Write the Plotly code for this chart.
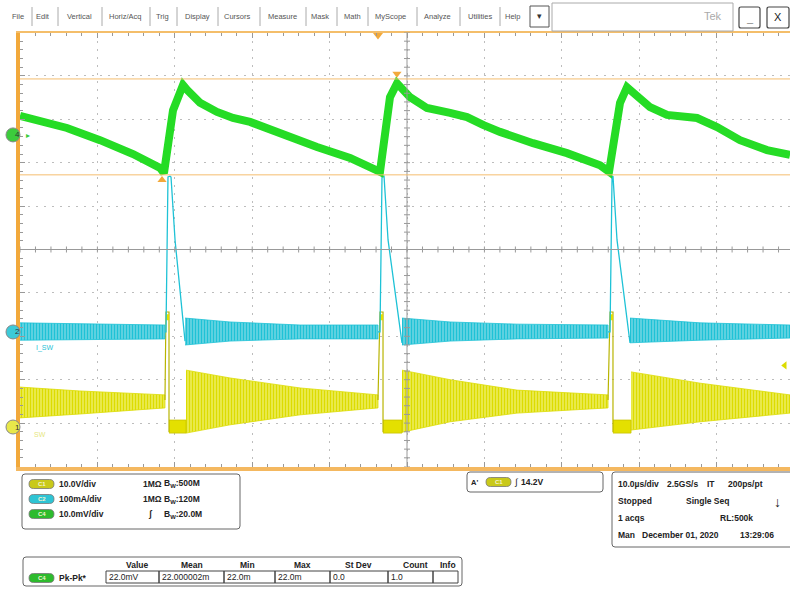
import plotly.graph_objects as go

# ---- waveform data (time in us, vertical in screen divisions) ----
# C4 (green) switching node ripple
c4_t = [0, 2.58, 6.07, 10.34, 14.6, 18.09, 18.6, 19.77, 20.67, 21.06, 21.58, 23.26, 25.45, 27.52,
        29.72, 33.98, 38.37, 42.64, 46.25, 46.51, 47.8, 48.71, 50.39, 52.58, 55.56, 57.75, 59.82,
        62.02, 66.28, 70.67, 74.94, 76.10, 77.52, 78.42, 81.40, 83.59, 87.47, 90.05, 93.02, 96.51, 99.48]
c4_v = [3.08, 2.98, 2.80, 2.52, 2.20, 1.88, 1.76, 3.21, 3.68, 3.79, 3.68, 3.38, 3.17, 3.03,
        2.94, 2.64, 2.36, 2.11, 1.84, 1.79, 3.51, 3.83, 3.51, 3.26, 3.15, 3.05, 2.87,
        2.71, 2.45, 2.22, 1.94, 1.79, 3.38, 3.74, 3.28, 3.10, 3.03, 2.82, 2.52, 2.29, 2.18]

# C2 (cyan) ringing envelope segments
c2_band_t = [[0, 9.0, 18.73], [21.32, 27.13, 36.18, 46.25], [49.35, 55.56, 64.21, 75.97], [78.81, 87.86, 99.48]]
c2_band_hi = [[-1.69, -1.72, -1.74], [-1.58, -1.67, -1.74, -1.74], [-1.58, -1.67, -1.72, -1.74], [-1.58, -1.69, -1.74]]
c2_band_lo = [[-2.09, -2.07, -2.06], [-2.20, -2.11, -2.06, -2.06], [-2.20, -2.11, -2.06, -2.04], [-2.15, -2.09, -2.04]]
# C2 current spikes
c2_spike_t = [[18.73, 18.86, 19.12, 19.38, 19.51, 20.03, 21.32],
              [46.25, 46.51, 46.77, 47.03, 47.55, 48.45, 49.35],
              [75.97, 76.23, 76.49, 76.61, 77.13, 78.81]]
c2_spike_v = [[-1.90, -1.90, 1.67, 1.69, 1.67, 0.22, -2.11],
              [-1.90, -1.90, 1.67, 1.69, 0.22, -0.93, -2.15],
              [-1.90, -1.90, 1.67, 1.69, 0.22, -2.15]]

# C1 (yellow) ringing envelope segments
c1_band_t = [[0, 7.75, 18.73], [21.45, 27.13, 36.18, 46.25], [49.35, 55.56, 64.21, 75.97], [78.94, 87.86, 99.48]]
c1_band_hi = [[-3.17, -3.26, -3.35], [-2.78, -2.96, -3.19, -3.35], [-2.78, -3.00, -3.24, -3.35], [-2.82, -3.08, -3.35]]
c1_band_lo = [[-3.88, -3.79, -3.65], [-4.23, -4.04, -3.81, -3.65], [-4.21, -3.97, -3.77, -3.65], [-4.16, -3.97, -3.77]]
# C1 low (on) interval
c1_low_t = [[19.25, 21.45], [46.90, 49.35], [76.61, 78.94]]
c1_low_hi = -3.93
c1_low_lo = -4.23
# C1 switching edges
c1_edge_t = [[18.73, 18.86, 19.25, 19.25], [46.25, 46.51, 46.90, 46.90], [75.97, 76.23, 76.61, 76.61]]
c1_edge_v = [-3.47, -1.44, -1.44, -4.21]

# ground markers / cursors / trigger
gnd = {'4': 2.64, '2': -1.90, '1': -4.09}
cursor_levels = [3.93, 1.72]
cursor_mark_t = [48.7, 18.35]
trig_t = 46.25
c1_scale = 10.0
trig_level_v = 14.2

menu_items = ['File', 'Edit', 'Vertical', 'Horiz/Acq', 'Trig', 'Display', 'Cursors', 'Measure',
              'Mask', 'Math', 'MyScope', 'Analyze', 'Utilities', 'Help']
ch_rows = [('C1', '10.0V/div', '1MΩ', 'B<sub>W</sub>:500M'),
           ('C2', '100mA/div', '1MΩ', 'B<sub>W</sub>:120M'),
           ('C4', '10.0mV/div', 'ʃ', 'B<sub>W</sub>:20.0M')]
meas_headers = ['Value', 'Mean', 'Min', 'Max', 'St Dev', 'Count', 'Info']
meas_values = ['22.0mV', '22.000002m', '22.0m', '22.0m', '0.0', '1.0', '']
acq_lines = [['10.0µs/div', '2.5GS/s', 'IT', '200ps/pt'],
             ['Stopped', 'Single Seq'],
             ['1 acqs', 'RL:500k'],
             ['Man', 'December 01, 2020', '13:29:06']]

W, H = 790, 590
YEL = '#dcdc00'
CYN = '#1ec2d6'
GRN = '#25dc25'
ORG = '#f2a93b'
ch_col = {'C1': '#c9c91a', 'C2': '#2ec4d4', 'C4': '#2dbb2d'}


def fx(p):
    return p / W


def fy(p):
    return 1 - p / H


fig = go.Figure()


def band(t, hi, lo, fg, bg, size, sol):
    fig.add_trace(go.Scatter(x=t + t[::-1], y=hi + lo[::-1], mode='lines', fill='toself',
                             line=dict(color=fg, width=0.8),
                             fillpattern=dict(shape='|', fgcolor=fg, bgcolor=bg, size=size,
                                              solidity=sol, fgopacity=1),
                             hoverinfo='skip'))


# yellow
for i in range(len(c1_band_t)):
    band(c1_band_t[i], c1_band_hi[i], c1_band_lo[i], YEL, '#f2f27a', 3, 0.6)
for seg in c1_low_t:
    fig.add_trace(go.Scatter(x=seg + seg[::-1], y=[c1_low_hi] * 2 + [c1_low_lo] * 2, mode='lines',
                             fill='toself', fillcolor='#e4e000', line=dict(color='#c8c400', width=0.8),
                             hoverinfo='skip'))
for seg in c1_edge_t:
    fig.add_trace(go.Scatter(x=seg, y=c1_edge_v, mode='lines', line=dict(color='#b8b400', width=1.2),
                             hoverinfo='skip'))
    fig.add_trace(go.Scatter(x=[seg[1], seg[2]], y=[-1.56, -1.56], mode='lines',
                             line=dict(color='#e4e000', width=6), hoverinfo='skip'))

# cyan
for i in range(len(c2_band_t)):
    band(c2_band_t[i], c2_band_hi[i], c2_band_lo[i], CYN, '#86dce8', 3, 0.6)
for i in range(len(c2_spike_t)):
    fig.add_trace(go.Scatter(x=c2_spike_t[i], y=c2_spike_v[i], mode='lines',
                             line=dict(color=CYN, width=1.3), hoverinfo='skip'))

# green
fig.add_trace(go.Scatter(x=c4_t, y=c4_v, mode='lines', line=dict(color=GRN, width=8), hoverinfo='skip'))

# cursor / trigger markers
fig.add_trace(go.Scatter(x=[cursor_mark_t[0]], y=[cursor_levels[0] + 0.12], mode='markers',
                         marker=dict(symbol='triangle-down', size=8, color=ORG), hoverinfo='skip'))
fig.add_trace(go.Scatter(x=[cursor_mark_t[1]], y=[cursor_levels[1] - 0.12], mode='markers',
                         marker=dict(symbol='triangle-up', size=8, color=ORG), hoverinfo='skip'))
fig.add_trace(go.Scatter(x=[trig_t], y=[4.94], mode='markers', cliponaxis=False,
                         marker=dict(symbol='triangle-down', size=9, color=ORG), hoverinfo='skip'))
fig.add_trace(go.Scatter(x=[98.8], y=[gnd['1'] + trig_level_v / c1_scale], mode='markers',
                         marker=dict(symbol='triangle-left', size=7, color=YEL), hoverinfo='skip'))

fig.update_layout(
    width=W, height=H, margin=dict(l=0, r=0, t=0, b=0),
    paper_bgcolor='white', plot_bgcolor='white', showlegend=False,
    xaxis=dict(domain=[fx(20), 1], range=[0, 99.48], dtick=10, tick0=0, showgrid=True,
               gridcolor='#bdbdbd', griddash='2px,6px', zeroline=False, showticklabels=False,
               ticks='inside', ticklen=5, tickcolor='#999',
               minor=dict(dtick=2, ticks='inside', ticklen=3, tickcolor='#999', showgrid=False),
               showline=True, linecolor='#f4be6a', linewidth=2, mirror='ticks', fixedrange=True),
    yaxis=dict(domain=[fy(466.5), fy(32.5)], range=[-5, 5], dtick=1, tick0=0, showgrid=True,
               gridcolor='#bdbdbd', griddash='2px,6px', zeroline=False, showticklabels=False,
               ticks='inside', ticklen=5, tickcolor='#999',
               minor=dict(dtick=0.2, ticks='inside', ticklen=3, tickcolor='#999', showgrid=False),
               showline=True, linecolor=ORG, linewidth=4, fixedrange=True),
)

shapes = []
# center crosshair
shapes.append(dict(type='line', xref='x', yref='y', x0=50, x1=50, y0=-5, y1=5, line=dict(color='#999', width=1)))
shapes.append(dict(type='line', xref='paper', yref='y', x0=fx(20), x1=1, y0=0, y1=0, line=dict(color='#999', width=1)))
for k in range(50):
    shapes.append(dict(type='line', xref='x', yref='y', x0=k * 2, x1=k * 2, ysizemode='pixel', yanchor=0,
                       y0=-3, y1=3, line=dict(color='#999', width=1)))
for k in range(-25, 26):
    shapes.append(dict(type='line', xref='x', yref='y', y0=k * 0.2, y1=k * 0.2, xsizemode='pixel', xanchor=50,
                       x0=-3, x1=3, line=dict(color='#999', width=1)))
# cursor lines
for lv in cursor_levels:
    shapes.append(dict(type='line', xref='paper', yref='y', x0=fx(20), x1=1, y0=lv, y1=lv,
                       line=dict(color='#f5bd6e', width=1)))
# bottom orange bar
shapes.append(dict(type='rect', xref='paper', yref='paper', x0=fx(16), x1=1, y0=fy(471), y1=fy(467),
                   fillcolor='#f4b860', line=dict(width=0)))

# ground markers
for num, lv in gnd.items():
    col = {'4': '#3ccc3c', '2': '#3ccad8', '1': '#e8e84a'}[num]
    shapes.append(dict(type='circle', xref='paper', yref='y', xsizemode='pixel', ysizemode='pixel',
                       xanchor=fx(13), yanchor=lv, x0=-7, x1=7, y0=-7, y1=7,
                       fillcolor=col, line=dict(color='#888', width=1)))
    fig.add_annotation(x=fx(13), y=lv, xref='paper', yref='y', text=num, showarrow=False,
                       font=dict(size=8, color='#333', family='Liberation Sans'))
fig.add_annotation(x=fx(24), y=gnd['4'], xref='paper', yref='y', text='▸', showarrow=False,
                   font=dict(size=8, color='#3ccc3c'))
fig.add_annotation(x=fx(34), y=fy(348), xref='paper', yref='paper', text='I_SW', showarrow=False,
                   xanchor='left', font=dict(size=7, color=CYN, family='Liberation Sans'))
fig.add_annotation(x=fx(32), y=fy(440), xref='paper', yref='paper', text='SW', showarrow=False,
                   xanchor='left', font=dict(size=7, color='#e6e680', family='Liberation Sans'))


def txt(x, y, s, size=8.5, color='#222', anchor='left', bold=True):
    fig.add_annotation(x=fx(x), y=fy(y), xref='paper', yref='paper', text=f'<b>{s}</b>' if bold else s,
                       showarrow=False, xanchor=anchor, yanchor='middle',
                       font=dict(size=size, color=color, family='Liberation Sans'))


def rrect(x0, y0, x1, y1, r, color='#666', width=1, fill='rgba(0,0,0,0)'):
    p = (f'M {fx(x0 + r)},{fy(y0)} L {fx(x1 - r)},{fy(y0)} Q {fx(x1)},{fy(y0)} {fx(x1)},{fy(y0 + r)} '
         f'L {fx(x1)},{fy(y1 - r)} Q {fx(x1)},{fy(y1)} {fx(x1 - r)},{fy(y1)} '
         f'L {fx(x0 + r)},{fy(y1)} Q {fx(x0)},{fy(y1)} {fx(x0)},{fy(y1 - r)} '
         f'L {fx(x0)},{fy(y0 + r)} Q {fx(x0)},{fy(y0)} {fx(x0 + r)},{fy(y0)} Z')
    shapes.append(dict(type='path', xref='paper', yref='paper', path=p, fillcolor=fill,
                       line=dict(color=color, width=width)))


def pill(x, y, ch):
    rrect(x, y - 4.5, x + 25, y + 4.5, 4.5, color='#777', width=0.8, fill=ch_col[ch])
    txt(x + 12.5, y, ch, size=6, color='#f4f4d0', anchor='center')


# menu bar
sep_x = [32, 58, 102, 150, 177, 218, 260, 306, 337, 368, 417, 460, 500]
item_x = [18, 43, 79, 125, 162, 197, 237, 282, 320, 352, 390, 438, 480, 512]
for name, x in zip(menu_items, item_x):
    txt(x, 16, name, size=7.5, color='#555', anchor='center', bold=False)
for x in sep_x:
    shapes.append(dict(type='line', xref='paper', yref='paper', x0=fx(x), x1=fx(x), y0=fy(7), y1=fy(26),
                       line=dict(color='#aaa', width=1)))
shapes.append(dict(type='rect', xref='paper', yref='paper', x0=fx(530), x1=fx(549), y0=fy(27), y1=fy(6),
                   line=dict(color='#555', width=1)))
txt(539.5, 16, '▾', size=9, color='#333', anchor='center', bold=False)
shapes.append(dict(type='rect', xref='paper', yref='paper', x0=fx(552), x1=fx(733), y0=fy(31), y1=fy(3),
                   line=dict(color='#aaa', width=1)))
txt(713, 16, 'Tek', size=11, color='#aaa', anchor='center', bold=False)
rrect(739, 7, 760, 28, 2, color='#444', width=1.2)
txt(749.5, 18, '_', size=11, color='#222', anchor='center')
rrect(767, 7, 789, 28, 2, color='#444', width=1.2)
txt(778, 17, 'X', size=11, color='#222', anchor='center', bold=False)

# channel panel
rrect(22, 474, 240, 529, 3)
for (ch, vdiv, imp, bw), y in zip(ch_rows, [484, 499, 514]):
    pill(29, y, ch)
    txt(57, y, vdiv)
    txt(141 if imp != 'ʃ' else 146, y, imp)
    txt(162, y, bw)

# trigger panel
rrect(467, 472, 603, 492, 3)
txt(469, 482, "A'", size=7.5)
pill(486, 482, 'C1')
txt(512, 482, '∫', size=9, bold=False)
txt(519, 482, '14.2V')

# acquisition panel
rrect(612, 472, 796, 547, 3)
acq_x = [[616, 665, 705, 726], [616, 684], [616, 718], [616, 640, 738]]
for line, xs, y in zip(acq_lines, acq_x, [484, 501, 518, 535]):
    for s, x in zip(line, xs):
        txt(x, y, s)
txt(777, 502, '↓', size=14, anchor='center')

# measurement panel
rrect(23, 557, 462, 586, 3)
head_x = [137, 192, 247, 302, 358, 415, 448]
for h, x in zip(meas_headers, head_x):
    txt(x, 565, h, anchor='center')
cell_x = [106, 159, 224, 275, 330, 388, 433, 458]
for i, v in enumerate(meas_values):
    shapes.append(dict(type='rect', xref='paper', yref='paper', x0=fx(cell_x[i]), x1=fx(cell_x[i + 1]),
                       y0=fy(583), y1=fy(571), line=dict(color='#444', width=1)))
    if v:
        txt(cell_x[i] + 1, 577, v, bold=False)
pill(29, 578, 'C4')
txt(57, 578, 'Pk-Pk*')

fig.update_layout(shapes=shapes)
fig.write_html('out.html', config={'displayModeBar': False},
               post_script="document.body.style.margin='0px';")
